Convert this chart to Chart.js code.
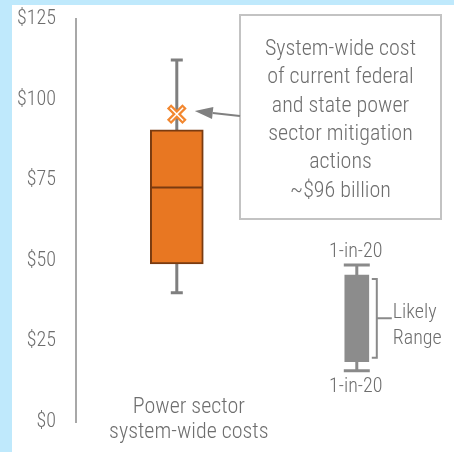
<!DOCTYPE html>
<html>
<head>
<meta charset="utf-8">
<script src="https://cdn.jsdelivr.net/npm/chart.js@4.4.1/dist/chart.umd.min.js"></script>
<style>
  html, body { margin: 0; padding: 0; background: #bfe9fc; overflow: hidden; }
  #wrap { position: absolute; left: 12px; top: 5px; width: 442px; height: 447px; background: #fff; }
</style>
</head>
<body>
<div id="wrap"><canvas id="chart1"></canvas></div>
<script>
// values ($ billion)
const categories = [['Power sector', 'system-wide costs']];
const whiskerLow = [40.1];
const boxLow = [49.0];
const medians = [72.7];
const boxHigh = [90.6];
const whiskerHigh = [112.3];
const currentActions = [95.5];
const yTicks = [0, 25, 50, 75, 100, 125];

// the little key on the right
const keyWhisker = [15.9, 48.7];
const keyBox = [18.7, 45.6];
const keyEnds = ['1-in-20', '1-in-20'];
const keyLabel = ['Likely', 'Range'];

const noteLines = [
  'System-wide cost',
  'of current federal',
  'and state power',
  'sector mitigation',
  'actions',
  '~$96 billion'
];

const MAIN_X = 1;
const KEY_X = 3;
const FONT = "'Roboto Condensed', 'DejaVu Sans Condensed', sans-serif";
const TEXT = '#6e6e6e';

Chart.defaults.font.family = FONT;
Chart.defaults.font.weight = 300;

function whisker(ctx, px, from, to, cap) {
  ctx.beginPath();
  ctx.moveTo(px, from);
  ctx.lineTo(px, to);
  ctx.moveTo(px - cap / 2, to);
  ctx.lineTo(px + cap / 2, to);
  ctx.stroke();
}

const boxExtras = {
  id: 'boxExtras',
  beforeDatasetsDraw(chart) {
    const { ctx, scales: { x, y } } = chart;
    ctx.save();
    ctx.lineWidth = 3;
    ctx.strokeStyle = '#7f7f7f';
    categories.forEach((c, i) => {
      const px = x.getPixelForValue(MAIN_X + i);
      whisker(ctx, px, y.getPixelForValue(boxHigh[i]), y.getPixelForValue(whiskerHigh[i]), 12);
      whisker(ctx, px, y.getPixelForValue(boxLow[i]), y.getPixelForValue(whiskerLow[i]), 12);
    });
    const kx = x.getPixelForValue(KEY_X);
    ctx.strokeStyle = '#8a8a8a';
    whisker(ctx, kx, y.getPixelForValue(keyBox[1]), y.getPixelForValue(keyWhisker[1]), 26);
    whisker(ctx, kx, y.getPixelForValue(keyBox[0]), y.getPixelForValue(keyWhisker[0]), 26);
    ctx.restore();
  },
  afterDatasetsDraw(chart) {
    const { ctx, chartArea, scales: { x, y } } = chart;
    ctx.save();

    // medians + category labels
    categories.forEach((c, i) => {
      const px = x.getPixelForValue(MAIN_X + i);
      const my = y.getPixelForValue(medians[i]);
      ctx.strokeStyle = '#7a3b10';
      ctx.lineWidth = 2;
      ctx.beginPath();
      ctx.moveTo(px - 26, my);
      ctx.lineTo(px + 26, my);
      ctx.stroke();

      ctx.fillStyle = TEXT;
      ctx.font = '300 22px ' + FONT;
      ctx.textAlign = 'center';
      ctx.textBaseline = 'alphabetic';
      c.forEach((line, j) => ctx.fillText(line, px + 12, chartArea.bottom - 9 + j * 25));
    });

    // note box
    const bx = 228, by = 10, bw = 201, bh = 204;
    ctx.strokeStyle = '#c3c3c3';
    ctx.lineWidth = 2;
    ctx.strokeRect(bx, by, bw, bh);
    ctx.fillStyle = TEXT;
    ctx.font = '300 22px ' + FONT;
    ctx.textAlign = 'center';
    noteLines.forEach((line, j) => ctx.fillText(line, bx + bw / 2, by + 40 + j * 28.3));

    // arrow from the note to the marker
    const mx = x.getPixelForValue(MAIN_X);
    const my = y.getPixelForValue(currentActions[0]);
    const tipX = mx + 18, tipY = my - 3;
    const startX = bx, startY = my + 2;
    const dx = tipX - startX, dy = tipY - startY;
    const len = Math.hypot(dx, dy);
    const ux = dx / len, uy = dy / len;
    const baseX = tipX - ux * 18, baseY = tipY - uy * 18;
    ctx.strokeStyle = '#808080';
    ctx.fillStyle = '#808080';
    ctx.lineWidth = 2;
    ctx.beginPath();
    ctx.moveTo(startX, startY);
    ctx.lineTo(baseX, baseY);
    ctx.stroke();
    ctx.beginPath();
    ctx.moveTo(tipX, tipY);
    ctx.lineTo(baseX - uy * 6, baseY + ux * 6);
    ctx.lineTo(baseX + uy * 6, baseY - ux * 6);
    ctx.closePath();
    ctx.fill();

    // key labels and bracket
    const kx = x.getPixelForValue(KEY_X);
    const kTop = y.getPixelForValue(keyBox[1]);
    const kBot = y.getPixelForValue(keyBox[0]);
    ctx.fillStyle = TEXT;
    ctx.font = '300 20px ' + FONT;
    ctx.textAlign = 'center';
    ctx.fillText(keyEnds[0], kx - 1, y.getPixelForValue(keyWhisker[1]) - 8);
    ctx.fillText(keyEnds[1], kx - 1, y.getPixelForValue(keyWhisker[0]) + 21);

    const br = kx + 20;
    const mid = (kTop + kBot) / 2;
    ctx.strokeStyle = '#8a8a8a';
    ctx.lineWidth = 2;
    ctx.beginPath();
    ctx.moveTo(br - 5, kTop + 4);
    ctx.lineTo(br, kTop + 4);
    ctx.lineTo(br, kBot - 4);
    ctx.lineTo(br - 5, kBot - 4);
    ctx.moveTo(br, mid);
    ctx.lineTo(br + 15, mid);
    ctx.stroke();
    ctx.textAlign = 'left';
    ctx.fillText(keyLabel[0], br + 16, mid + 0);
    ctx.fillText(keyLabel[1], br + 16, mid + 26);

    ctx.restore();
  }
};

let chart1 = document.getElementById('chart1').getContext('2d');
let boxChart = new Chart(chart1, {
  type: 'bar',
  data: {
    datasets: [
      {
        type: 'scatter',
        data: currentActions.map((v, i) => ({ x: MAIN_X + i, y: v })),
        pointStyle: 'crossRot',
        radius: 9,
        borderWidth: 1.5,
        borderColor: '#ffffff',
        order: 0
      },
      {
        type: 'scatter',
        data: currentActions.map((v, i) => ({ x: MAIN_X + i, y: v })),
        pointStyle: 'crossRot',
        radius: 11,
        borderWidth: 6,
        borderColor: '#f2872f',
        order: 1
      },
      {
        data: boxLow.map((v, i) => ({ x: MAIN_X + i, y: [v, boxHigh[i]] })),
        backgroundColor: '#e87722',
        borderColor: '#7a3b10',
        borderWidth: 2,
        borderSkipped: false,
        barThickness: 53,
        grouped: false,
        order: 2
      },
      {
        data: [{ x: KEY_X, y: keyBox }],
        backgroundColor: '#8c8c8c',
        borderWidth: 0,
        barThickness: 24,
        grouped: false,
        order: 2
      }
    ]
  },
  options: {
    responsive: true,
    maintainAspectRatio: false,
    animation: false,
    layout: { autoPadding: false, padding: { top: 14, bottom: 30, left: 0, right: 0 } },
    plugins: { legend: { display: false }, tooltip: { enabled: false } },
    scales: {
      x: { type: 'linear', display: false, offset: false, min: -0.12, max: 4.08 },
      y: {
        min: 0,
        max: 125,
        afterBuildTicks: s => { s.ticks = yTicks.map(v => ({ value: v })); },
        afterFit: s => { s.width = 64; s.paddingTop = 10; s.paddingBottom = 10; },
        grid: { display: false, drawTicks: false },
        border: { display: true, color: '#a8a8a8', width: 2 },
        ticks: {
          padding: 20,
          color: TEXT,
          font: { size: 20, weight: 300 },
          callback: v => '$' + v
        }
      }
    }
  },
  plugins: [boxExtras]
});
</script>
</body>
</html>
